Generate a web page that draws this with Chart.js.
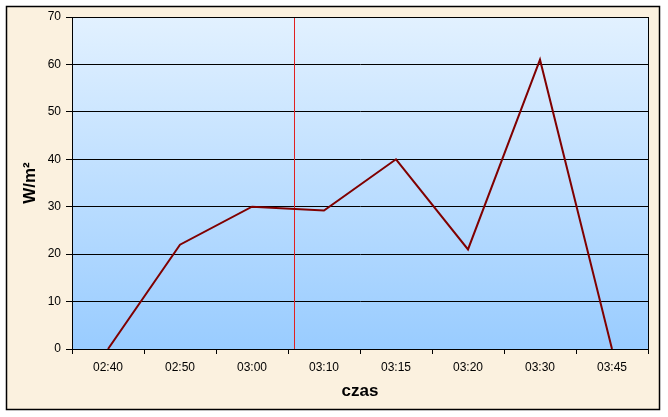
<!DOCTYPE html>
<html>
<head>
<meta charset="utf-8">
<script src="https://cdn.jsdelivr.net/npm/chart.js@4/dist/chart.umd.min.js"></script>
<style>
  html, body { margin: 0; padding: 0; background: #ffffff; }
  #wrap { width: 668px; height: 417px; }
</style>
</head>
<body>
<div id="wrap"><canvas id="solarChart" width="668" height="417"></canvas></div>
<script>
const labels = ['02:40', '02:50', '03:00', '03:10', '03:15', '03:20', '03:30', '03:45'];
const irradiance = [0, 22, 30, 29.2, 40, 21, 61, 0];
const yTicks = [0, 10, 20, 30, 40, 50, 60, 70];
const markerAt = 2.58; // red vertical line, in category units

const chartBackground = {
    id: 'chartBackground',
    beforeDraw(chart) {
        const ctx = chart.ctx;
        const area = chart.chartArea;
        ctx.save();
        ctx.fillStyle = '#ffffff';
        ctx.fillRect(0, 0, chart.width, chart.height);
        ctx.fillStyle = '#fbf1df';
        ctx.fillRect(6, 6, 654, 404);
        ctx.strokeStyle = '#000000';
        ctx.lineWidth = 1.5;
        ctx.strokeRect(6.5, 6.5, 653, 403);
        const grad = ctx.createLinearGradient(0, area.top, 0, area.bottom);
        grad.addColorStop(0, '#e2f1ff');
        grad.addColorStop(1, '#99ccff');
        ctx.fillStyle = grad;
        ctx.fillRect(area.left, area.top, area.right - area.left, area.bottom - area.top);
        ctx.restore();
    },
    beforeDatasetsDraw(chart) {
        const ctx = chart.ctx;
        const area = chart.chartArea;
        const x = Math.round(chart.scales.x.getPixelForValue(markerAt)) + 0.5;
        ctx.save();
        ctx.strokeStyle = '#e02020';
        ctx.lineWidth = 1;
        ctx.beginPath();
        ctx.moveTo(x, area.top);
        ctx.lineTo(x, area.bottom);
        ctx.stroke();
        ctx.strokeStyle = '#000000';
        ctx.strokeRect(area.left + 0.5, area.top + 0.5, area.right - area.left, area.bottom - area.top);
        ctx.restore();
    }
};

const tickFont = { family: 'Liberation Sans', size: 12 };

const solarCtx = document.getElementById('solarChart').getContext('2d');
const solarChart = new Chart(solarCtx, {
    type: 'line',
    data: {
        labels: labels,
        datasets: [{
            data: irradiance,
            borderColor: '#800000',
            borderWidth: 2,
            pointRadius: 0,
            tension: 0,
            fill: false
        }]
    },
    options: {
        responsive: false,
        animation: false,
        layout: { padding: { top: 17, right: 20, bottom: 0, left: 0 } },
        plugins: {
            legend: { display: false },
            tooltip: { enabled: false }
        },
        scales: {
            x: {
                offset: true,
                grid: {
                    offset: true,
                    drawOnChartArea: false,
                    drawTicks: true,
                    tickLength: 5,
                    color: '#000000'
                },
                border: { color: '#000000' },
                ticks: { color: '#000000', font: tickFont, padding: 6, maxRotation: 0 },
                title: {
                    display: true,
                    text: 'czas',
                    color: '#000000',
                    font: { family: 'Liberation Sans', size: 17, weight: 'bold' },
                    padding: { top: 4, bottom: 15 }
                },
                afterFit(scale) { scale.height = 68; }
            },
            y: {
                min: 0,
                max: 70,
                afterBuildTicks(scale) { scale.ticks = yTicks.map(v => ({ value: v })); },
                grid: { color: '#000000', tickLength: 6 },
                border: { color: '#000000' },
                ticks: { color: '#000000', font: tickFont, padding: 5 },
                title: {
                    display: true,
                    text: 'W/m²',
                    color: '#000000',
                    font: { family: 'Liberation Sans', size: 17, weight: 'bold' },
                    padding: { top: 20, bottom: 20 }
                },
                afterFit(scale) { scale.width = 72; }
            }
        }
    },
    plugins: [chartBackground]
});
</script>
</body>
</html>
